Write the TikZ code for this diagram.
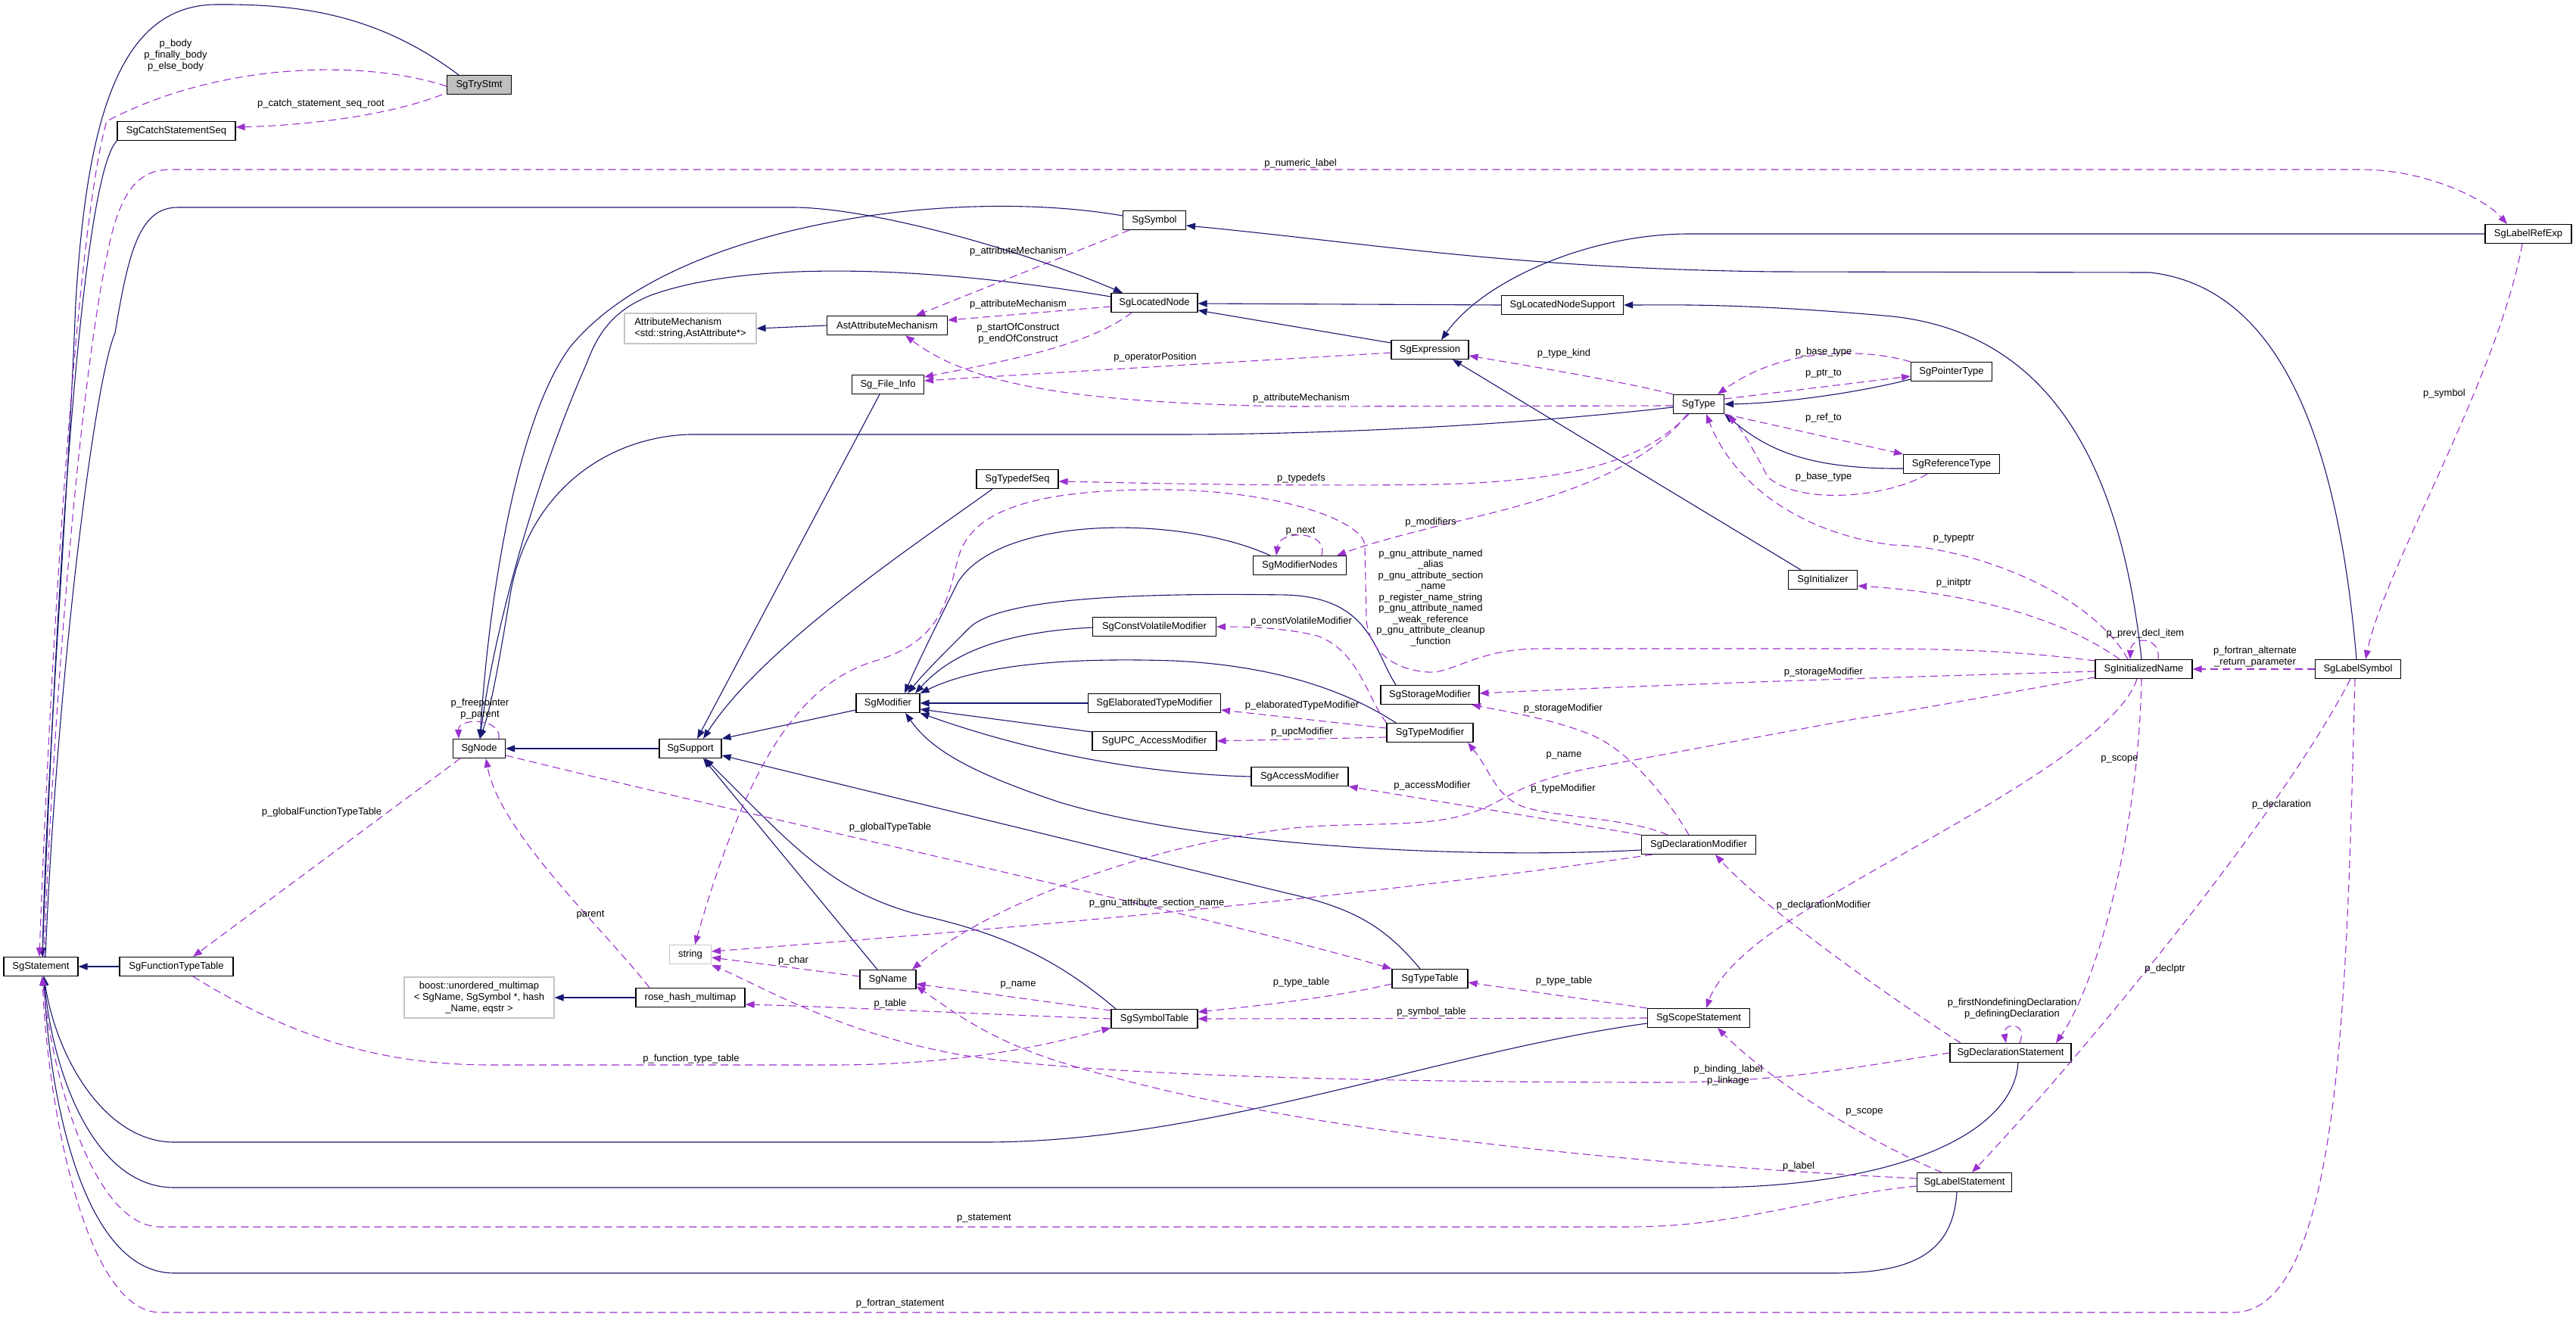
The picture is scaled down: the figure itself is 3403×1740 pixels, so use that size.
\documentclass[tikz,border=0pt]{standalone}
\usepackage{fontspec}
\setmainfont{Liberation Sans}
\usetikzlibrary{arrows.meta}
\definecolor{midnight}{RGB}{25,25,112}
\definecolor{orchid}{RGB}{154,50,205}
\newcommand{\dfont}{\fontsize{13pt}{15pt}\selectfont}

\begin{document}
\begin{tikzpicture}[x=1pt, y=-1pt,
    cls/.style={rectangle, draw=black, line width=1.1pt, fill=white, minimum height=25pt, inner sep=0pt, align=center, font=\dfont},
    extcls/.style={cls, draw=gray!45},
    inherit/.style={draw=midnight, line width=1.1pt, -{Triangle[length=12pt,width=9pt]}},
    member/.style={draw=orchid, line width=1.1pt, dash pattern=on 10pt off 6pt, -{Triangle[length=12pt,width=9pt]}},
    edgetext/.style={font=\dfont, align=center, inner sep=0pt}
]
\useasboundingbox[fill=white] (0,0) rectangle (3403,1740);

% Classes
\node (trystmt) [cls, fill=gray!50, minimum width=85pt] at (633,112) {SgTryStmt};
\node (catchseq) [cls, minimum width=156pt] at (233,173) {SgCatchStatementSeq};
\node (statement) [cls, minimum width=98pt] at (54,1277) {SgStatement};
\node (functt) [cls, minimum width=150pt] at (233,1277) {SgFunctionTypeTable};
\node (sgnode) [cls, minimum width=69pt] at (633,989) {SgNode};
\node (boost) [extcls, minimum width=198pt, minimum height=54pt] at (633,1318) {boost::unordered\_multimap\\< SgName, SgSymbol *, hash\\\_Name, eqstr >};
\node (rosehash) [cls, minimum width=144pt] at (912,1318) {rose\_hash\_multimap};
\node (sgsymbol) [cls, minimum width=83pt] at (1525,291) {SgSymbol};
\node (locnode) [cls, minimum width=114pt] at (1525,400) {SgLocatedNode};
\node (astattr) [cls, minimum width=159pt] at (1172,430) {AstAttributeMechanism};
\node (attrmech) [extcls, minimum width=174pt, minimum height=40pt, align=left] at (912,434) {AttributeMechanism\\<std::string,AstAttribute*>};
\node (fileinfo) [cls, minimum width=95pt] at (1173,508) {Sg\_File\_Info};
\node (typedefseq) [cls, minimum width=108pt] at (1344,633) {SgTypedefSeq};
\node (modifier) [cls, minimum width=84pt] at (1173,929) {SgModifier};
\node (cvmod) [cls, minimum width=163pt] at (1525,828) {SgConstVolatileModifier};
\node (elabmod) [cls, minimum width=175pt] at (1525,929) {SgElaboratedTypeModifier};
\node (upcmod) [cls, minimum width=164pt] at (1525,979) {SgUPC\_AccessModifier};
\node (support) [cls, minimum width=82pt] at (912,989) {SgSupport};
\node (string) [extcls, minimum width=55pt] at (912,1261) {string};
\node (sgname) [cls, minimum width=74pt] at (1173,1294) {SgName};
\node (symtable) [cls, minimum width=114pt] at (1525,1346) {SgSymbolTable};
\node (locsupport) [cls, minimum width=161pt] at (2064,403) {SgLocatedNodeSupport};
\node (expression) [cls, minimum width=102pt] at (1889,462) {SgExpression};
\node (sgtype) [cls, minimum width=67pt] at (2244,534) {SgType};
\node (labelrefexp) [cls, minimum width=114pt] at (3340,309) {SgLabelRefExp};
\node (pointertype) [cls, minimum width=107pt] at (2578,491) {SgPointerType};
\node (reftype) [cls, minimum width=127pt] at (2578,613) {SgReferenceType};
\node (modnodes) [cls, minimum width=123pt] at (1717,747) {SgModifierNodes};
\node (storagemod) [cls, minimum width=130pt] at (1889,918) {SgStorageModifier};
\node (typemod) [cls, minimum width=114pt] at (1889,968) {SgTypeModifier};
\node (initializer) [cls, minimum width=91pt] at (2408,766) {SgInitializer};
\node (initname) [cls, minimum width=128pt] at (2832,884) {SgInitializedName};
\node (labelsymbol) [cls, minimum width=113pt] at (3115,884) {SgLabelSymbol};
\node (accessmod) [cls, minimum width=128pt] at (1717,1026) {SgAccessModifier};
\node (declmod) [cls, minimum width=151pt] at (2244,1116) {SgDeclarationModifier};
\node (typetable) [cls, minimum width=100pt] at (1889,1293) {SgTypeTable};
\node (scopestmt) [cls, minimum width=135pt] at (2244,1345) {SgScopeStatement};
\node (declstmt) [cls, minimum width=160pt] at (2656,1391) {SgDeclarationStatement};
\node (labelstmt) [cls, minimum width=125pt] at (2595,1562) {SgLabelStatement};

% Inheritance
\draw[inherit] ([xshift=16pt]trystmt.north west) .. controls (500,20) and (400,5) .. (284,6) .. controls (160,8) and (115,150) .. (100,400) .. controls (88,700) and (62,1000) .. ([xshift=2pt]statement.north);
\draw[inherit] (catchseq.south west) .. controls (115,225) and (80,620) .. ([xshift=2pt]statement.north);
\draw[inherit] (functt.west) -- (statement.east);
\draw[inherit] ([xshift=6pt]statement.north) .. controls (75,900) and (125,500) .. (152,440) .. controls (170,330) and (185,274) .. (235,274) -- (1047,274) .. controls (1150,274) and (1350,330) .. ([xshift=-42pt]locnode.north);
\draw[inherit] ([yshift=-7pt]scopestmt.west) .. controls (1900,1390) and (1600,1509) .. (1300,1509) -- (230,1509) .. controls (140,1509) and (75,1400) .. ([xshift=4pt]statement.south);
\draw[inherit] ([xshift=10pt]declstmt.south) .. controls (2660,1500) and (2500,1569) .. (2250,1569) -- (230,1569) .. controls (125,1569) and (70,1420) .. ([xshift=4pt]statement.south);
\draw[inherit] ([xshift=-10pt]labelstmt.south) .. controls (2580,1660) and (2520,1682) .. (2420,1682) -- (230,1682) .. controls (110,1682) and (65,1450) .. ([xshift=4pt]statement.south);
\draw[inherit] (support.west) -- (sgnode.east);
\draw[inherit] ([yshift=6pt]sgsymbol.west) .. controls (1250,245) and (880,300) .. (752,460) .. controls (680,560) and (645,800) .. ([xshift=1pt]sgnode.north);
\draw[inherit] ([yshift=8pt]locnode.west) .. controls (1250,355) and (1000,340) .. (860,390) .. controls (810,410) and (790,440) .. (775,480) .. controls (700,650) and (650,850) .. ([xshift=1pt]sgnode.north);
\draw[inherit] ([yshift=-4pt]sgtype.west) .. controls (2000,562) and (1750,574) .. (1550,574) -- (910,574) .. controls (800,578) and (700,650) .. (675,780) .. controls (660,870) and (650,930) .. ([xshift=1pt]sgnode.north);
\draw[inherit] (rosehash.west) -- (boost.east);
\draw[inherit] (astattr.west) -- (attrmech.east);
\draw[inherit] ([xshift=-11pt]fileinfo.south) -- ([xshift=9pt]support.north);
\draw[inherit] ([xshift=-33pt]typedefseq.south) .. controls (1230,705) and (1010,850) .. ([xshift=17pt]support.north);
\draw[inherit] ([yshift=-9pt]modifier.west) -- (support.north east);
\draw[inherit] ([xshift=-14pt]sgname.north) -- ([xshift=17pt]support.south);
\draw[inherit] ([xshift=-51pt]symtable.north) .. controls (1400,1270) and (1330,1235) .. (1220,1210) .. controls (1100,1180) and (1050,1120) .. ([xshift=19pt]support.south);
\draw[inherit] ([xshift=-13pt]typetable.north) .. controls (1830,1225) and (1790,1200) .. (1700,1180) -- ([yshift=-9pt]support.east);
\draw[inherit] ([xshift=-39pt]modnodes.north) .. controls (1560,680) and (1320,680) .. (1265,770) .. controls (1240,820) and (1215,870) .. ([xshift=22pt]modifier.north);
\draw[inherit] ([xshift=-45pt]storagemod.north) .. controls (1815,860) and (1810,790) .. (1700,786) .. controls (1500,783) and (1320,790) .. (1280,830) .. controls (1250,860) and (1220,890) .. ([xshift=26pt]modifier.north);
\draw[inherit] ([yshift=-1pt]cvmod.west) .. controls (1330,835) and (1260,860) .. ([xshift=36pt]modifier.north);
\draw[inherit] ([xshift=-45pt]typemod.north) .. controls (1790,920) and (1700,880) .. (1550,873) .. controls (1400,868) and (1290,880) .. (modifier.north east);
\draw[inherit] (elabmod.west) -- (modifier.east);
\draw[inherit] ([yshift=12pt]upcmod.west) -- ([yshift=-8pt]modifier.east);
\draw[inherit] ([yshift=-7pt]declmod.west) .. controls (1950,1135) and (1600,1120) .. (1400,1060) .. controls (1280,1020) and (1230,990) .. ([xshift=23pt]modifier.south);
\draw[inherit] (accessmod.west) .. controls (1500,1022) and (1350,990) .. (modifier.south east);
\draw[inherit] (locsupport.west) -- ([yshift=-1pt]locnode.east);
\draw[inherit] ([yshift=9pt]expression.west) -- ([yshift=-10pt]locnode.east);
\draw[inherit] (labelrefexp.west) -- (2231,309) .. controls (2100,309) and (1960,370) .. ([xshift=15pt]expression.north);
\draw[inherit] ([xshift=-29pt]initializer.north) -- ([xshift=30pt]expression.south);
\draw[inherit] ([yshift=-10pt]pointertype.west) .. controls (2450,520) and (2350,533) .. (sgtype.east);
\draw[inherit] ([yshift=-6pt]reftype.west) .. controls (2380,620) and (2330,590) .. (sgtype.south east);
\draw[inherit] ([xshift=-3pt]initname.north) .. controls (2800,600) and (2700,440) .. (2500,418) .. controls (2300,400) and (2200,403) .. (locsupport.east);
\draw[inherit] ([xshift=-2pt]labelsymbol.north) .. controls (3090,600) and (3020,380) .. (2840,360) -- (2346,359) .. controls (2000,355) and (1800,320) .. ([yshift=-7pt]sgsymbol.east);

% Members
\draw[member] ([yshift=-2pt]trystmt.west) .. controls (480,78) and (290,82) .. (141,160) .. controls (100,300) and (65,900) .. ([xshift=-2pt]statement.north);
\draw[member] ([xshift=-6pt]trystmt.south west) .. controls (520,150) and (420,165) .. ([yshift=5pt]catchseq.east);
\draw[member] ([xshift=4pt]statement.north) .. controls (72,900) and (110,450) .. (150,300) .. controls (165,250) and (185,224) .. (225,224) -- (3120,224) .. controls (3200,224) and (3280,260) .. ([xshift=-28pt]labelrefexp.north);
\draw[member] ([yshift=-5pt]labelstmt.west) .. controls (2400,1580) and (2300,1621) .. (2150,1621) -- (212,1621) .. controls (125,1621) and (70,1430) .. ([xshift=2pt]statement.south);
\draw[member] ([xshift=-4pt]labelsymbol.south) .. controls (3100,1300) and (3095,1734) .. (2950,1734) -- (212,1734) .. controls (110,1734) and (62,1450) .. ([xshift=2pt]statement.south);
\draw[member] ([xshift=9pt]sgsymbol.south west) -- ([xshift=38pt]astattr.north);
\draw[member] ([yshift=-5pt]locnode.west) -- ([yshift=7pt]astattr.east);
\draw[member] ([xshift=-30pt]locnode.south) .. controls (1440,455) and (1340,475) .. ([yshift=10pt]fileinfo.east);
\draw[member] ([yshift=-4pt]expression.west) .. controls (1600,480) and (1400,492) .. ([yshift=5pt]fileinfo.east);
\draw[member] ([yshift=-2pt]sgtype.west) -- (1700,537) .. controls (1450,532) and (1290,515) .. ([xshift=24pt]astattr.south);
\draw[member] ([xshift=-34pt]sgtype.north) .. controls (2150,505) and (2000,480) .. ([yshift=-8pt]expression.east);
\draw[member] (pointertype.north west) .. controls (2470,462) and (2360,455) .. ([xshift=25pt]sgtype.north);
\draw[member] ([yshift=7pt]sgtype.east) -- ([yshift=-6pt]pointertype.west);
\draw[member] (sgtype.south east) -- (reftype.north west);
\draw[member] ([xshift=-32pt]reftype.south) .. controls (2500,655) and (2380,670) .. (2335,630) .. controls (2320,600) and (2300,565) .. ([xshift=4pt,yshift=-2pt]sgtype.south east);
\draw[member] ([xshift=-21pt]initname.north) .. controls (2760,780) and (2600,722) .. (2500,720) .. controls (2380,705) and (2290,640) .. ([xshift=10pt]sgtype.south);
\draw[member] ([xshift=-13pt]sgtype.south) .. controls (2170,610) and (2080,635) .. (1900,640) .. controls (1700,643) and (1500,638) .. ([yshift=-3pt]typedefseq.east);
\draw[member] ([xshift=-15pt]sgtype.south) .. controls (2150,650) and (1950,680) .. (1880,700) .. controls (1820,715) and (1790,725) .. ([xshift=49pt]modnodes.north);
\draw[member] ([xshift=29pt]modnodes.north) .. controls (1755,700) and (1690,700) .. ([xshift=-31pt]modnodes.north);
\draw[member] ([xshift=-32pt]initname.north) .. controls (2700,800) and (2550,780) .. ([yshift=-8pt]initializer.east);
\draw[member] ([xshift=19pt]initname.north) .. controls (2855,840) and (2815,840) .. ([xshift=-18pt]initname.north);
\draw[member] (labelsymbol.west) -- (initname.east);
\draw[member] ([xshift=-8pt]labelrefexp.south) .. controls (3300,500) and (3150,750) .. ([xshift=10pt]labelsymbol.north);
\draw[member] ([yshift=-3pt]initname.west) .. controls (2600,892) and (2300,900) .. ([yshift=2pt]storagemod.east);
\draw[member] ([yshift=11pt]initname.west) .. controls (2650,858) and (2550,857) .. (2450,857) -- (2036,857) .. controls (1950,857) and (1920,890) .. (1887,888) .. controls (1840,885) and (1810,860) .. (1805,820) -- (1803,720) .. controls (1800,690) and (1700,650) .. (1546,647) .. controls (1350,645) and (1280,680) .. (1265,740) .. controls (1250,800) and (1240,850) .. (1150,875) .. controls (1080,900) and (1000,960) .. ([xshift=6pt]string.north);
\draw[member] ([yshift=-11pt]initname.west) .. controls (2650,915) and (2550,935) .. (2450,950) -- (2100,1015) .. controls (2000,1035) and (1990,1060) .. (1940,1075) .. controls (1880,1095) and (1780,1085) .. (1700,1095) .. controls (1500,1120) and (1300,1200) .. ([xshift=32pt]sgname.north);
\draw[member] ([xshift=-9pt]initname.south) .. controls (2790,1000) and (2450,1150) .. (2330,1240) .. controls (2290,1270) and (2265,1300) .. ([xshift=10pt]scopestmt.north);
\draw[member] ([xshift=-3pt]initname.south) .. controls (2825,1100) and (2770,1300) .. ([xshift=60pt]declstmt.north);
\draw[member] ([xshift=-13pt]declmod.north) .. controls (2200,1050) and (2150,990) .. (2100,970) .. controls (2050,950) and (1990,940) .. ([xshift=55pt]storagemod.south);
\draw[member] ([xshift=-41pt]declmod.north) .. controls (2150,1080) and (2050,1080) .. (2010,1065) .. controls (1975,1050) and (1970,1020) .. ([xshift=50pt]typemod.south);
\draw[member] (typemod.north west) .. controls (1805,920) and (1795,860) .. (1740,840) .. controls (1700,830) and (1650,828) .. (cvmod.east);
\draw[member] ([yshift=6pt]typemod.west) -- ([yshift=-9pt]elabmod.east);
\draw[member] ([yshift=-6pt]typemod.west) -- (upcmod.east);
\draw[member] (declmod.north west) -- (accessmod.south east);
\draw[member] ([xshift=-61pt]declmod.south) .. controls (1900,1170) and (1500,1215) .. ([yshift=4pt]string.east);
\draw[member] ([yshift=-9pt]sgnode.east) .. controls (1000,1080) and (1600,1210) .. (typetable.north west);
\draw[member] ([xshift=26pt]sgnode.north) .. controls (663,948) and (605,948) .. ([xshift=-27pt]sgnode.north);
\draw[member] ([xshift=-25pt]sgnode.south) -- ([xshift=22pt]functt.north);
\draw[member] ([xshift=-54pt]rosehash.north) .. controls (800,1230) and (660,1100) .. ([xshift=9pt]sgnode.south);
\draw[member] ([yshift=4pt]sgname.west) -- ([yshift=-4pt]string.east);
\draw[member] ([yshift=11pt]symtable.west) -- ([yshift=-6pt]sgname.east);
\draw[member] (symtable.west) .. controls (1300,1340) and (1100,1330) .. ([yshift=-9pt]rosehash.east);
\draw[member] ([yshift=-7pt]typetable.west) .. controls (1750,1320) and (1650,1330) .. ([yshift=9pt]symtable.east);
\draw[member] (scopestmt.west) -- (symtable.east);
\draw[member] (scopestmt.north west) -- ([yshift=-5pt]typetable.east);
\draw[member] ([xshift=22pt]functt.south) .. controls (400,1380) and (520,1407) .. (650,1407) -- (1100,1407) .. controls (1300,1407) and (1420,1370) .. ([yshift=-12pt]symtable.west);
\draw[member] ([xshift=-66pt]declstmt.north) .. controls (2500,1320) and (2330,1200) .. ([xshift=22pt]declmod.south);
\draw[member] ([xshift=12pt]declstmt.north) .. controls (2680,1350) and (2645,1350) .. ([xshift=-6pt]declstmt.north);
\draw[member] (declstmt.west) .. controls (2450,1410) and (2350,1430) .. (2200,1430) .. controls (1800,1430) and (1400,1420) .. (1250,1390) .. controls (1100,1360) and (1000,1300) .. ([yshift=-14pt]string.east);
\draw[member] ([xshift=-10pt]labelsymbol.south) .. controls (3000,1100) and (2700,1450) .. ([xshift=10pt]labelstmt.north);
\draw[member] ([xshift=-30pt]labelstmt.north) .. controls (2450,1500) and (2330,1420) .. ([xshift=25pt]scopestmt.south);
\draw[member] ([yshift=5pt]labelstmt.west) .. controls (2200,1540) and (1700,1500) .. (1391,1400) .. controls (1300,1370) and (1250,1330) .. ([yshift=-9pt]sgname.east);

% Edge labels
\node (lbody) [edgetext] at (232,73) {p\_body\\p\_finally\_body\\p\_else\_body};
\node (lcatch) [edgetext] at (424,137) {p\_catch\_statement\_seq\_root};
\node (lnumeric) [edgetext] at (1718,216) {p\_numeric\_label};
\node (lattr1) [edgetext] at (1345,332) {p\_attributeMechanism};
\node (lattr2) [edgetext] at (1345,402) {p\_attributeMechanism};
\node (lconstruct) [edgetext] at (1345,441) {p\_startOfConstruct\\p\_endOfConstruct};
\node (loperator) [edgetext] at (1526,472) {p\_operatorPosition};
\node (lattr3) [edgetext] at (1719,526) {p\_attributeMechanism};
\node (ltypekind) [edgetext] at (2066,467) {p\_type\_kind};
\node (lbase1) [edgetext] at (2409,465) {p\_base\_type};
\node (lptr) [edgetext] at (2409,494) {p\_ptr\_to};
\node (lref) [edgetext] at (2409,552) {p\_ref\_to};
\node (lbase2) [edgetext] at (2409,630) {p\_base\_type};
\node (ltypedefs) [edgetext] at (1719,632) {p\_typedefs};
\node (lmodifiers) [edgetext] at (1890,690) {p\_modifiers};
\node (lnext) [edgetext] at (1718,702) {p\_next};
\node (lgnu) [edgetext, font=\fontsize{13pt}{14.5pt}\selectfont] at (1890,790) {p\_gnu\_attribute\_named\\\_alias\\p\_gnu\_attribute\_section\\\_name\\p\_register\_name\_string\\p\_gnu\_attribute\_named\\\_weak\_reference\\p\_gnu\_attribute\_cleanup\\\_function};
\node (ltypeptr) [edgetext] at (2581,712) {p\_typeptr};
\node (linitptr) [edgetext] at (2581,770) {p\_initptr};
\node (lprev) [edgetext] at (2834,837) {p\_prev\_decl\_item};
\node (lfortalt) [edgetext] at (2979,868) {p\_fortran\_alternate\\\_return\_parameter};
\node (lsymbol) [edgetext] at (3229,520) {p\_symbol};
\node (lcv) [edgetext] at (1719,821) {p\_constVolatileModifier};
\node (lstorage1) [edgetext] at (2409,888) {p\_storageModifier};
\node (lstorage2) [edgetext] at (2065,936) {p\_storageModifier};
\node (lelab) [edgetext] at (1720,932) {p\_elaboratedTypeModifier};
\node (lupc) [edgetext] at (1720,967) {p\_upcModifier};
\node (lname1) [edgetext] at (2066,998) {p\_name};
\node (laccess) [edgetext] at (1892,1038) {p\_accessModifier};
\node (ltypemod) [edgetext] at (2065,1042) {p\_typeModifier};
\node (lscope1) [edgetext] at (2800,1003) {p\_scope};
\node (ldeclmod) [edgetext] at (2409,1196) {p\_declarationModifier};
\node (ldeclaration) [edgetext] at (3014,1063) {p\_declaration};
\node (ldeclptr) [edgetext] at (2860,1280) {p\_declptr};
\node (ldefining) [edgetext] at (2658,1333) {p\_firstNondefiningDeclaration\\p\_definingDeclaration};
\node (lbinding) [edgetext] at (2283,1421) {p\_binding\_label\\p\_linkage};
\node (lscope2) [edgetext] at (2463,1469) {p\_scope};
\node (llabel) [edgetext] at (2376,1541) {p\_label};
\node (lstatement) [edgetext] at (1300,1610) {p\_statement};
\node (lfortstmt) [edgetext] at (1189,1722) {p\_fortran\_statement};
\node (lsymtab) [edgetext] at (1891,1337) {p\_symbol\_table};
\node (ltypetab1) [edgetext] at (1719,1298) {p\_type\_table};
\node (ltypetab2) [edgetext] at (2066,1296) {p\_type\_table};
\node (lname2) [edgetext] at (1345,1301) {p\_name};
\node (ltable) [edgetext] at (1176,1326) {p\_table};
\node (lchar) [edgetext] at (1048,1269) {p\_char};
\node (lglobaltt) [edgetext] at (1176,1093) {p\_globalTypeTable};
\node (lsection) [edgetext] at (1528,1193) {p\_gnu\_attribute\_section\_name};
\node (lfunctt) [edgetext] at (913,1399) {p\_function\_type\_table};
\node (lglobalft) [edgetext] at (425,1073) {p\_globalFunctionTypeTable};
\node (lparent) [edgetext] at (780,1209) {parent};
\node (lfree) [edgetext] at (634,937) {p\_freepointer\\p\_parent};

\end{tikzpicture}
\end{document}
